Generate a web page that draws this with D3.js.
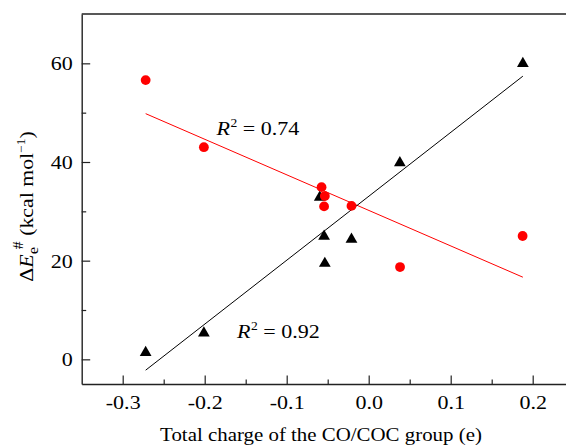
<!DOCTYPE html>
<html>
<head>
<meta charset="utf-8">
<script src="https://cdn.jsdelivr.net/npm/d3@7"></script>
<style>
  html, body { margin: 0; padding: 0; background: #fff; }
  svg text { font-family: "Liberation Serif", "Times New Roman", serif; fill: #000; }
</style>
</head>
<body>
<svg id="chart" width="566" height="446"></svg>
<script>
// ---- data ----
const circleX = [-0.272, -0.201, -0.0575, -0.0535, -0.0544, -0.021, 0.0382, 0.1877];
const circleY = [56.6, 43.0, 34.9, 33.1, 31.0, 31.1, 18.7, 25.0];
const triX = [0.188, 0.038, -0.0597, -0.0544, -0.021, -0.0535, -0.201, -0.272];
const triY = [60.1, 40.0, 33.0, 25.1, 24.5, 19.6, 5.5, 1.55];
const fitX = [-0.272, 0.188];
const circleFitY = [49.8, 16.65];
const triFitY = [-2.2, 57.4];
const xTicks = [-0.3, -0.2, -0.1, 0.0, 0.1, 0.2];
const xMinorTicks = [-0.25, -0.15, -0.05, 0.05, 0.15, 0.25];
const yTicks = [0, 20, 40, 60];
const yMinorTicks = [10, 30, 50];
const circleR2 = "0.74";
const triR2 = "0.92";
const xTitle = "Total charge of the CO/COC group (e)";

// ---- layout ----
const mLeft = 81.7, mRight = 614.7, mTop = 14, mBottom = 384;
const sx = 1.13; // horizontal stretch of text
const fs = 19.5;
const serif = "'Liberation Serif', 'Times New Roman', serif";

const svg = d3.select("#chart");
const x = d3.scaleLinear().domain([-0.35, 0.3]).range([mLeft, mRight]);
const y = d3.scaleLinear().domain([-5, 70]).range([mBottom, mTop]);

const fmt = d => d3.format(".1f")(d).replace("\u2212", "-");

// frame (top and right)
svg.append("path")
  .attr("d", `M${mLeft},${mTop}H${mRight}V${mBottom}`)
  .attr("fill", "none").attr("stroke", "#222").attr("stroke-width", 1.4);

// x axis
const gx = svg.append("g").attr("transform", `translate(0,${mBottom})`)
  .call(d3.axisBottom(x).tickValues(xTicks).tickFormat(fmt).tickSizeInner(-8.5).tickSizeOuter(0).tickPadding(0));
gx.attr("font-family", serif).attr("font-size", fs);
gx.select(".domain").attr("stroke", "#222").attr("stroke-width", 1.4);
gx.selectAll(".tick line").attr("stroke", "#222").attr("stroke-width", 1.2);
gx.selectAll(".tick text")
  .style("font-family", serif).style("font-size", fs + "px").attr("fill", "#000")
  .attr("y", 25.3).attr("dy", 0)
  .attr("transform", `scale(${sx},1)`);
svg.append("g").attr("transform", `translate(0,${mBottom})`)
  .call(d3.axisBottom(x).tickValues(xMinorTicks).tickFormat("").tickSizeInner(-4.5).tickSizeOuter(0))
  .call(g => g.select(".domain").remove())
  .selectAll(".tick line").attr("stroke", "#222").attr("stroke-width", 1.2);

// y axis
const gy = svg.append("g").attr("transform", `translate(${mLeft},0)`)
  .call(d3.axisLeft(y).tickValues(yTicks).tickFormat(d3.format("d")).tickSizeInner(-8.5).tickSizeOuter(0).tickPadding(0));
gy.attr("font-family", serif).attr("font-size", fs);
gy.select(".domain").attr("stroke", "#222").attr("stroke-width", 1.4);
gy.selectAll(".tick line").attr("stroke", "#222").attr("stroke-width", 1.2);
gy.selectAll(".tick text")
  .style("font-family", serif).style("font-size", fs + "px").attr("fill", "#000")
  .attr("x", -8.0).attr("dy", 0).attr("y", 6.5)
  .attr("transform", `scale(${sx},1)`);
svg.append("g").attr("transform", `translate(${mLeft},0)`)
  .call(d3.axisLeft(y).tickValues(yMinorTicks).tickFormat("").tickSizeInner(-4.5).tickSizeOuter(0))
  .call(g => g.select(".domain").remove())
  .selectAll(".tick line").attr("stroke", "#222").attr("stroke-width", 1.2);

// fit lines
const line = d3.line().x(d => x(d[0])).y(d => y(d[1]));
svg.append("path").datum(fitX.map((v, i) => [v, circleFitY[i]]))
  .attr("d", line).attr("fill", "none").attr("stroke", "#ff0000").attr("stroke-width", 1);
svg.append("path").datum(fitX.map((v, i) => [v, triFitY[i]]))
  .attr("d", line).attr("fill", "none").attr("stroke", "#000").attr("stroke-width", 1);

// triangles
const tri = d3.symbol().type(d3.symbolTriangle).size(60);
svg.append("g").selectAll("path").data(triX.map((v, i) => [v, triY[i]])).join("path")
  .attr("d", tri)
  .attr("transform", d => `translate(${x(d[0])},${y(d[1]) + 0.8})`)
  .attr("fill", "#000");

// circles
svg.append("g").selectAll("circle").data(circleX.map((v, i) => [v, circleY[i]])).join("circle")
  .attr("cx", d => x(d[0])).attr("cy", d => y(d[1])).attr("r", 4.9)
  .attr("fill", "#ff0000");

// R^2 labels
function r2Label(px, py, val) {
  const t = svg.append("text")
    .attr("transform", `translate(${px},${py}) scale(${sx},1)`)
    .style("font-size", fs + "px");
  t.append("tspan").attr("font-style", "italic").text("R");
  t.append("tspan").style("font-size", "12px").attr("dy", -8).attr("dx", 0.5).text("2");
  t.append("tspan").attr("dy", 8).text(" = " + val);
}
r2Label(216.5, 135, circleR2);
r2Label(237, 338, triR2);

// x title
svg.append("text")
  .attr("transform", `translate(321,440.5) scale(${sx},1)`)
  .attr("text-anchor", "middle").style("font-size", "18.5px")
  .text(xTitle);

// y title
const yt = svg.append("text")
  .attr("transform", `translate(33,206.5) rotate(-90) scale(1.12,1)`)
  .attr("text-anchor", "middle").style("font-size", "19.5px");
yt.append("tspan").text("\u0394");
yt.append("tspan").attr("font-style", "italic").text("E");
yt.append("tspan").style("font-size", "15px").attr("dy", 5).text("e");
yt.append("tspan").style("font-size", "14px").attr("dy", -15).attr("dx", -2).text("#");
yt.append("tspan").attr("dy", 10).text(" (kcal mol");
yt.append("tspan").style("font-size", "12px").attr("dy", -8).text("\u22121");
yt.append("tspan").attr("dy", 8).text(")");
</script>
</body>
</html>
